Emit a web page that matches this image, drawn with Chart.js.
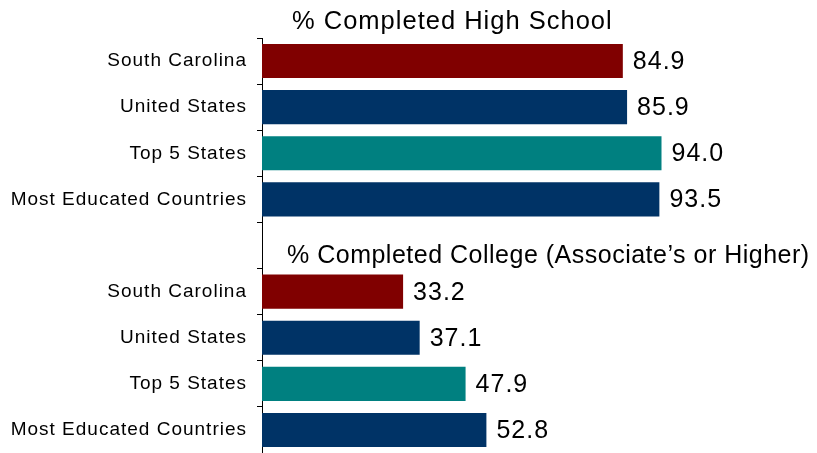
<!DOCTYPE html>
<html>
<head>
<meta charset="utf-8">
<script src="https://cdn.jsdelivr.net/npm/chart.js@4/dist/chart.umd.min.js"></script>
<style>
  html, body { margin: 0; padding: 0; background: #fff; }
  #wrap { width: 817px; height: 453px; }
</style>
</head>
<body>
<div id="wrap"><canvas id="eduChart"></canvas></div>
<script>
const groupLabels = ['South Carolina', 'United States', 'Top 5 States', 'Most Educated Countries'];
const highSchool = [84.9, 85.9, 94.0, 93.5];
const college = [33.2, 37.1, 47.9, 52.8];
const groupColors = ['#800000', '#003366', '#008080', '#003366'];
const titles = ['% Completed High School', '% Completed College (Associate\u2019s or Higher)'];

const FONT = "'Liberation Sans', Arial, sans-serif";

// one empty category separates the two groups
const labels = [...groupLabels, '', ...groupLabels];
const values = [...highSchool, null, ...college];
const colors = [...groupColors, 'rgba(0,0,0,0)', ...groupColors];

const spacing = {
  id: 'spacing',
  beforeDraw(chart) { chart.ctx.letterSpacing = '1px'; },
  afterDraw(chart) { chart.ctx.letterSpacing = '0px'; }
};

const barText = {
  id: 'barText',
  afterDatasetsDraw(chart) {
    const ctx = chart.ctx;
    const meta = chart.getDatasetMeta(0);
    const y = chart.scales.y;
    ctx.save();
    ctx.fillStyle = '#000';
    ctx.font = '25px ' + FONT;
    ctx.textAlign = 'left';
    ctx.textBaseline = 'middle';
    meta.data.forEach((bar, i) => {
      const v = values[i];
      if (v == null) return;
      ctx.fillText(v.toFixed(1), bar.x + 10, bar.y + 1);
    });
    ctx.textBaseline = 'alphabetic';
    ctx.letterSpacing = '1px';
    ctx.font = '25.5px ' + FONT;
    ctx.fillText(titles[0], chart.chartArea.left + 30, chart.chartArea.top - 9);
    ctx.letterSpacing = '0.5px';
    ctx.font = '25px ' + FONT;
    ctx.fillText(titles[1], chart.chartArea.left + 25, y.getPixelForValue(4) + 17.5);
    ctx.restore();
  }
};

new Chart(document.getElementById('eduChart').getContext('2d'), {
  type: 'bar',
  data: {
    labels: labels,
    datasets: [{
      data: values,
      backgroundColor: colors,
      borderWidth: 0,
      categoryPercentage: 1.0,
      barPercentage: 0.74
    }]
  },
  options: {
    indexAxis: 'y',
    responsive: true,
    maintainAspectRatio: false,
    animation: false,
    layout: { padding: { top: 38, right: 130, bottom: 0, left: 0 } },
    plugins: {
      legend: { display: false },
      tooltip: { enabled: false }
    },
    scales: {
      x: {
        display: false,
        min: 0,
        max: 100
      },
      y: {
        afterFit(scale) {
          scale.width = 262;
          scale.paddingTop = 0;
          scale.paddingBottom = 0;
        },
        border: { display: true, color: '#000', width: 1 },
        grid: {
          offset: true,
          drawOnChartArea: false,
          color: '#000',
          tickLength: 5
        },
        ticks: {
          autoSkip: false,
          color: '#000',
          padding: 10,
          font: { family: FONT, size: 19 }
        }
      }
    }
  },
  plugins: [spacing, barText]
});
</script>
</body>
</html>
